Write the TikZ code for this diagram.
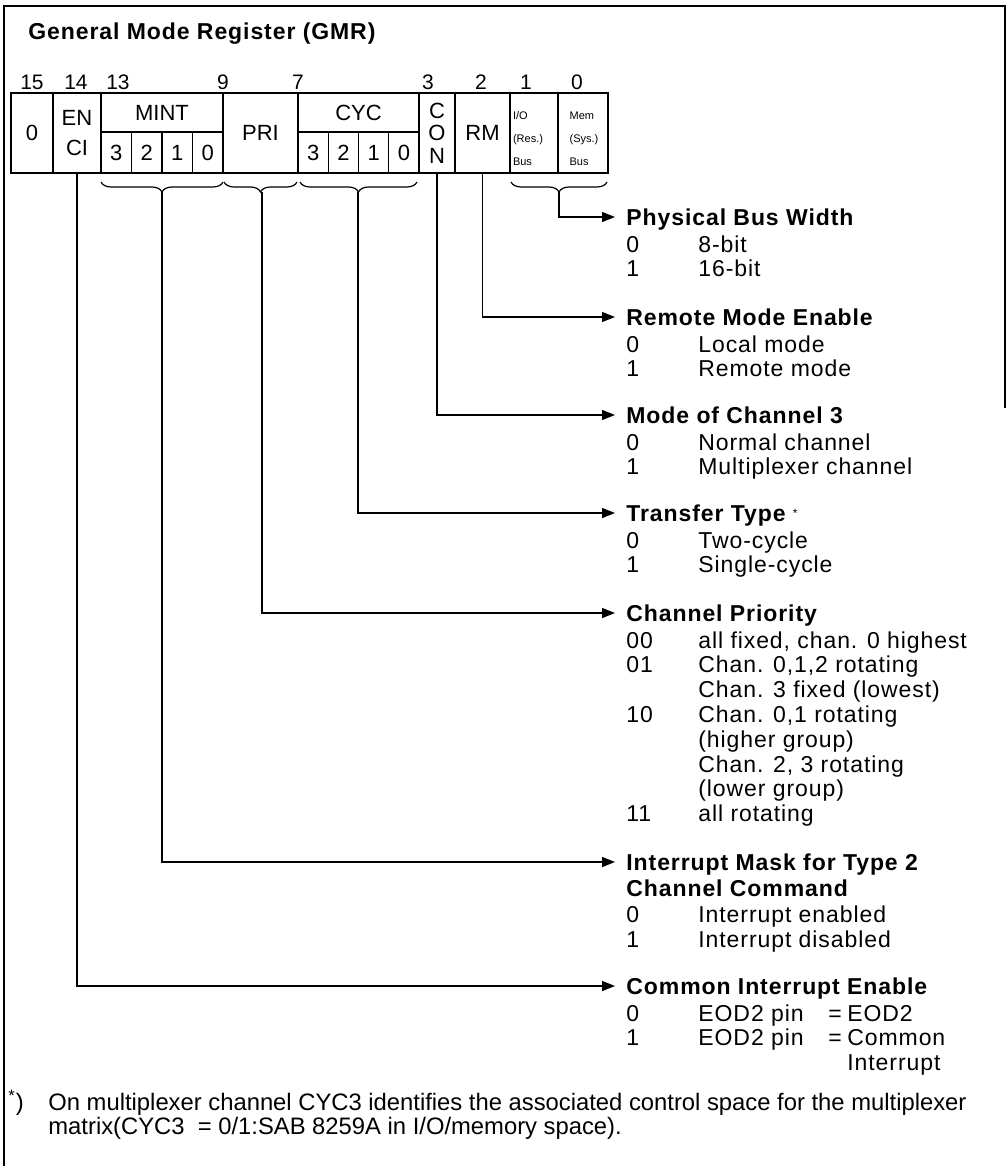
\documentclass[tikz,border=0pt]{standalone}
\usepackage{fontspec}
\setmainfont{Liberation Sans}
\newfontfamily\spaced[LetterSpace=4]{Liberation Sans}
\usetikzlibrary{positioning, arrows.meta, decorations.pathreplacing}

\newcommand{\bodyfont}{\spaced\fontsize{11.5}{12.4}\selectfont}
\newcommand{\headfont}{\spaced\bfseries\fontsize{11.5}{12.4}\selectfont}
\newcommand{\notefont}{\fontsize{11.9}{11.5}\selectfont}

\begin{document}
\begin{tikzpicture}[
  x=0.5pt, y=-0.5pt,
  >={Triangle[length=6.5pt, width=5pt]},
  cell/.style={draw, line width=0.9pt, inner sep=0pt, align=center, font=\fontsize{11}{15}\selectfont},
  subcell/.style={cell, line width=0.6pt, minimum width=15.2pt, minimum height=20.5pt},
  tiny/.style={inner sep=0pt, align=left, font=\fontsize{5.5}{11.5}\selectfont},
  bitno/.style={inner sep=0pt, font=\fontsize{10.5}{12}\selectfont},
  hd/.style={anchor=west, inner xsep=5.5pt, inner ysep=0pt, text height=8.2pt, text depth=0pt, font=\headfont},
  vals/.style={inner sep=0pt, font=\bodyfont},
  conn/.style={->, line width=0.7pt},
  brc/.style={decorate, decoration={brace, mirror, amplitude=5pt}, line width=0.6pt},
]
\useasboundingbox (0,0) rectangle (1006,1166);

% frame
\draw[line width=1pt] (4,1166) -- (4,6) -- (1005,6) -- (1005,408);

\node[anchor=base west, inner sep=0pt, font=\headfont] (title) at (28,40) {General Mode Register (GMR)};

% ---- bit numbers ----
\foreach \n/\x in {15/32, 14/76, 13/118, 9/223, 7/298, 3/428, 2/481, 1/526, 0/577}
  \node[bitno] (bit\n) at (\x,82) {\n};

% ---- register cells ----
\node[cell, minimum width=21pt, minimum height=40pt] (zero) at (32,133) {0};
\node[cell, minimum width=24pt, minimum height=40pt] (enci) at (77,133) {EN\\CI};
\node[cell, minimum width=61pt, minimum height=19.5pt] (mint) at (162,112.5) {MINT};
\foreach \d [count=\k] in {3,2,1,0}
  \node[subcell] (mint\d) at ({101+30.5*(\k-0.5)},152.5) {\d};
\node[cell, minimum width=37.5pt, minimum height=40pt] (pri) at (260.5,133) {PRI};
\node[cell, minimum width=60.5pt, minimum height=19.5pt] (cyc) at (358.5,112.5) {CYC};
\foreach \d [count=\k] in {3,2,1,0}
  \node[subcell, minimum width=15.1pt] (cyc\d) at ({298+30.25*(\k-0.5)},152.5) {\d};
\node[cell, minimum width=18pt, minimum height=40pt, font=\fontsize{11}{11.25}\selectfont] (con) at (437,133) {C\\O\\N};
\node[cell, minimum width=27.5pt, minimum height=40pt] (rm) at (482.5,133) {RM};
\node[cell, minimum width=24pt, minimum height=40pt] (io) at (534,133) {};
\node[cell, minimum width=25pt, minimum height=40pt] (mem) at (583,133) {};
\node[tiny] (iotxt) at (528,139) {I/O\\(Res.)\\Bus};
\node[tiny] (memtxt) at (584,139) {Mem\\(Sys.)\\Bus};

% ---- braces ----
\draw[brc] (101,182) -- (223,182);
\draw[brc] (224,182) -- (297,182);
\draw[brc] (300,182) -- (417,182);
\draw[brc] (511,182) -- (607,182);
\coordinate (mintb) at (162,192);
\coordinate (prib) at (262,192);
\coordinate (cycb) at (358,192);
\coordinate (busb) at (559,192);

% ---- field descriptions ----
\node[hd] (pbw) at (615,217) {Physical Bus Width};
\node[vals, below right=4.4pt and 5.5pt of pbw.south west] (pbwv)
  {\begin{tabular}{@{}p{36pt}@{}l@{}}0 & 8-bit\\ 1 & 16-bit\end{tabular}};

\node[hd] (rme) at (615,317) {Remote Mode Enable};
\node[vals, below right=4.4pt and 5.5pt of rme.south west] (rmev)
  {\begin{tabular}{@{}p{36pt}@{}l@{}}0 & Local mode\\ 1 & Remote mode\end{tabular}};

\node[hd] (moc) at (615,415) {Mode of Channel 3};
\node[vals, below right=4.4pt and 5.5pt of moc.south west] (mocv)
  {\begin{tabular}{@{}p{36pt}@{}l@{}}0 & Normal channel\\ 1 & Multiplexer channel\end{tabular}};

\node[hd] (ttype) at (615,513) {Transfer Type \raisebox{2pt}{\mdseries\fontsize{6}{6}\selectfont *}};
\node[vals, below right=4.4pt and 5.5pt of ttype.south west] (ttypev)
  {\begin{tabular}{@{}p{36pt}@{}l@{}}0 & Two-cycle\\ 1 & Single-cycle\end{tabular}};

\node[hd] (cpri) at (615,613) {Channel Priority};
\node[vals, below right=4.4pt and 5.5pt of cpri.south west] (cpriv)
  {\begin{tabular}{@{}p{36pt}@{}l@{}}
    00 & all fixed, chan. 0 highest\\
    01 & Chan. 0,1,2 rotating\\
       & Chan. 3 fixed (lowest)\\
    10 & Chan. 0,1 rotating\\
       & (higher group)\\
       & Chan. 2, 3 rotating\\
       & (lower group)\\
    11 & all rotating
  \end{tabular}};

\node[hd] (imask) at (615,862) {Interrupt Mask for Type 2};
\node[hd, anchor=north west, below right=4.3pt and 0pt of imask.south west] (ccmd) {Channel Command};
\node[vals, below right=4.4pt and 5.5pt of ccmd.south west] (imaskv)
  {\begin{tabular}{@{}p{36pt}@{}l@{}}0 & Interrupt enabled\\ 1 & Interrupt disabled\end{tabular}};

\node[hd] (cie) at (615,986) {Common Interrupt Enable};
\node[vals, below right=4.4pt and 5.5pt of cie.south west] (ciev)
  {\begin{tabular}{@{}p{36pt}@{}l@{}}
    0 & \makebox[65pt][l]{EOD2 pin}\makebox[9.5pt][l]{=}EOD2\\
    1 & \makebox[65pt][l]{EOD2 pin}\makebox[9.5pt][l]{=}Common\\
      & \hspace*{74.5pt}Interrupt
  \end{tabular}};

% ---- connectors ----
\draw[conn] (busb) |- (pbw.west);
\draw[conn] (rm.south) |- (rme.west);
\draw[conn] (con.south) |- (moc.west);
\draw[conn] (cycb) |- (ttype.west);
\draw[conn] (prib) |- (cpri.west);
\draw[conn] (mintb) |- (imask.west);
\draw[conn] (enci.south) |- (cie.west);

% ---- footnote ----
\node[anchor=base west, inner sep=0pt, font=\notefont] (fnmark) at (8,1110) {\textsuperscript{*})};
\node[anchor=base west, inner sep=0pt, font=\notefont] (fn) at (48,1110)
  {\begin{tabular}[t]{@{}l@{}}
    On multiplexer channel CYC3 identifies the associated control space for the multiplexer\\
    matrix(CYC3 \ = 0/1:SAB 8259A in I/O/memory space).
  \end{tabular}};

\end{tikzpicture}
\end{document}
